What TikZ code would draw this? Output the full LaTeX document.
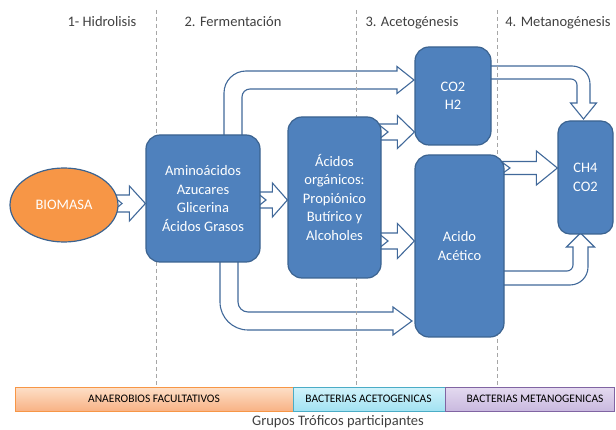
\documentclass[tikz,border=0pt]{standalone}
\usepackage{fontspec}
\setmainfont{Carlito}
\usetikzlibrary{calc,shapes.geometric}
\pgfdeclarelayer{bg}
\pgfsetlayers{bg,main}
\definecolor{boxfill}{HTML}{4F81BD}
\definecolor{boxline}{HTML}{3B6390}
\definecolor{arrline}{HTML}{41699A}
\definecolor{orfill}{HTML}{F79646}
\definecolor{hdr}{HTML}{404040}
\definecolor{dashc}{HTML}{A6A6A6}
\definecolor{ortop}{HTML}{FDE0C8}
\definecolor{orbot}{HTML}{F8B285}
\definecolor{orline}{HTML}{F79646}
\definecolor{cytop}{HTML}{D2F3FB}
\definecolor{cybot}{HTML}{A2E2F2}
\definecolor{cyline}{HTML}{4BACC6}
\definecolor{putop}{HTML}{E4DAF0}
\definecolor{pubot}{HTML}{C9B9DF}
\definecolor{puline}{HTML}{8064A2}
\newcommand{\notcharrow}[6]{% tail, tip, half shaft, half head, head length, notch
  \draw[blockarrow] ($(#1)+(0,-#3)$) -- ($(#2)+(-#5,-#3)$) -- ($(#2)+(-#5,-#4)$)
    -- (#2) -- ($(#2)+(-#5,#4)$) -- ($(#2)+(-#5,#3)$) -- ($(#1)+(0,#3)$)
    -- ($(#1)+(#6,0)$) -- cycle;}
\tikzset{
  stagebox/.style={rectangle, rounded corners=14pt, fill=boxfill, draw=boxline,
    line width=1.2pt, text=white, align=center, inner sep=0pt,
    font=\fontsize{14.5}{18.5}\selectfont},
  blockarrow/.style={fill=white, draw=arrline, line width=1.1pt, line join=miter},
  header/.style={text=hdr, anchor=base, inner sep=0pt, font=\fontsize{14.5}{17}\selectfont},
  phase/.style={draw=dashc, dash pattern=on 4pt off 3pt, line width=0.8pt},
  bandbox/.style={rectangle, line width=0.8pt, inner sep=0pt, minimum height=24pt},
  bandlabel/.style={inner sep=0pt, text=black, font=\fontsize{11.5}{13}\selectfont},
}
\begin{document}
\begin{tikzpicture}[x=1pt,y=-1pt]
\useasboundingbox (0,0) rectangle (616,430);
% phase separators
\coordinate (d1t) at (156,10); \coordinate (d1b) at (156,387);
\coordinate (d2t) at (356,10); \coordinate (d2b) at (356,387);
\coordinate (d3t) at (497,10); \coordinate (d3b) at (497,387);
\draw[phase] (d1t) -- (d1b);
\draw[phase] (d2t) -- (d2b);
\draw[phase] (d3t) -- (d3b);
% headers
\node[header] (h1) at (102,27) {1- Hidrolisis};
\node[header] (h2) at (233,27) {2. Fermentación};
\node[header] (h3) at (412,27) {3. Acetogénesis};
\node[header] (h4) at (558,27) {4. Metanogénesis};
% nodes
\node[ellipse, fill=orfill, draw=boxline, line width=1.2pt, minimum width=108pt,
      minimum height=74pt, inner sep=0pt, text=white,
      font=\fontsize{14.5}{17}\selectfont] (bio) at (64,205) {BIOMASA};
\node[stagebox, minimum width=114pt, minimum height=127pt] (A) at (203,198.5)
  {Aminoácidos\\Azucares\\Glicerina\\Ácidos Grasos};
\node[stagebox, minimum width=93pt, minimum height=161pt] (B) at (334.5,197.5)
  {Ácidos\\orgánicos:\\Propiónico\\Butírico y\\Alcoholes};
\node[stagebox, minimum width=76pt, minimum height=98pt] (C) at (453,96) {CO2\\H2};
\node[stagebox, minimum width=89pt, minimum height=182pt] (D) at (459.5,246) {Acido\\Acético};
\node[stagebox, rounded corners=12pt, minimum width=55pt, minimum height=113pt] (E) at (585.5,177.5) {CH4\\CO2};
% block arrows (behind the boxes)
\coordinate (t1) at (112,203.5);  \coordinate (p1) at (A.west |- t1);
\coordinate (t2) at (256,200);    \coordinate (p2) at (B.west |- t2);
\coordinate (t3) at (378,132);    \coordinate (p3) at (C.west |- t3);
\coordinate (t4) at (378,241);    \coordinate (p4) at (D.west |- t4);
\coordinate (t5) at (501,168);    \coordinate (p5) at (E.west |- t5);
\begin{pgfonlayer}{bg}
\notcharrow{t1}{p1}{8.5}{17.5}{16}{10}
\notcharrow{t2}{p2}{8}{17}{15}{10}
\notcharrow{t3}{p3}{8}{16.5}{17}{10}
\notcharrow{t4}{p4}{8}{17.5}{17}{10}
\notcharrow{t5}{p5}{6.5}{17}{21}{9}
% A -> C (bent, over the top)
\draw[blockarrow] (224,140) -- (224,93) .. controls (224,80.85) and (233.85,71) .. (246,71)
  -- (397,71) -- (397,66.5) -- (414,80) -- (397,93.5) -- (397,89) -- (250,89)
  .. controls (245.58,89) and (242,92.58) .. (242,97) -- (242,140) -- cycle;
% A -> D (bent, underneath)
\draw[blockarrow] (220,258) -- (220,302) .. controls (220,317.46) and (232.54,330) .. (248,330)
  -- (393,330) -- (393,335) -- (412,321) -- (393,307) -- (393,312) -- (248,312)
  .. controls (242.48,312) and (238,307.52) .. (238,302) -- (238,258) -- cycle;
% C -> E
\draw[blockarrow] (487,66) -- (572,66) .. controls (581.94,66) and (590,74.06) .. (590,84)
  -- (590,103) -- (596.5,103) -- (583.5,119) -- (570.5,103) -- (577,103) -- (577,85)
  .. controls (577,81.69) and (574.31,79) .. (571,79) -- (487,79) -- cycle;
% D -> E (from below)
\draw[blockarrow] (500,271) -- (567,271) .. controls (570.31,271) and (573,268.31) .. (573,265)
  -- (573,247) -- (566.5,247) -- (580.5,233) -- (594.5,247) -- (588,247) -- (588,267)
  .. controls (588,276.94) and (579.94,285) .. (570,285) -- (500,285) -- cycle;
\end{pgfonlayer}
% trophic groups band
\node[bandbox, draw=orline, top color=ortop, bottom color=orbot, minimum width=278pt] (g1) at (154,399) {};
\node[bandbox, draw=cyline, top color=cytop, bottom color=cybot, minimum width=152pt] (g2) at (369,399) {};
\node[bandbox, draw=puline, top color=putop, bottom color=pubot, minimum width=169pt] (g3) at (529.5,399) {};
\node[bandlabel] (l1) at (154,399) {ANAEROBIOS FACULTATIVOS};
\node[bandlabel] (l2) at (368.5,399) {BACTERIAS ACETOGENICAS};
\node[bandlabel] (l3) at (535,399) {BACTERIAS METANOGENICAS};
\node[header] (gt) at (338,425) {Grupos Tróficos participantes};
\end{tikzpicture}
\end{document}
